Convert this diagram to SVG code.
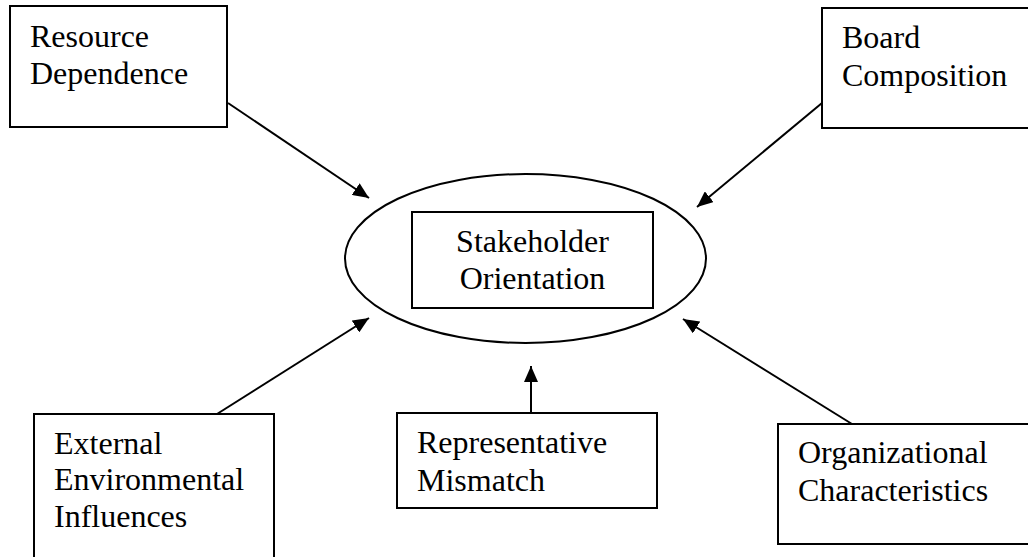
<svg xmlns="http://www.w3.org/2000/svg" width="1028" height="557" viewBox="0 0 1028 557">
<style>
.box{fill:#fff;stroke:#000;stroke-width:2}
.lbl{font-family:"Liberation Serif","Times New Roman",serif;font-size:32px;fill:#000}
.conn{stroke:#000;stroke-width:2;fill:none;marker-end:url(#arr)}
</style>
<defs>
<marker id="arr" markerUnits="userSpaceOnUse" markerWidth="18" markerHeight="14" refX="16" refY="7" orient="auto">
<path d="M0,0 L16,7 L0,14 Z" fill="#000"/>
</marker>
</defs>
<rect width="1028" height="557" fill="#fff"/>
<g id="connectors">
<line class="conn" x1="228" y1="103" x2="369" y2="198"/>
<line class="conn" x1="822" y1="103" x2="697" y2="207"/>
<line class="conn" x1="217" y1="414" x2="369" y2="318"/>
<line class="conn" x1="531" y1="413" x2="531" y2="366"/>
<line class="conn" x1="852" y1="424" x2="683" y2="319"/>
</g>
<g id="resource">
<rect class="box" x="10" y="6" width="217" height="121"/>
<text class="lbl" x="30" y="47">Resource</text>
<text class="lbl" x="30" y="84">Dependence</text>
</g>
<g id="board">
<rect class="box" x="822" y="8" width="230" height="120"/>
<text class="lbl" x="842" y="48">Board</text>
<text class="lbl" x="842" y="86">Composition</text>
</g>
<g id="stakeholder">
<ellipse cx="525.5" cy="258.5" rx="180.5" ry="84.5" fill="none" stroke="#000" stroke-width="2"/>
<rect class="box" x="412" y="212" width="241" height="96"/>
<text class="lbl" x="532.5" y="252" text-anchor="middle">Stakeholder</text>
<text class="lbl" x="532.5" y="289" text-anchor="middle">Orientation</text>
</g>
<g id="external">
<rect class="box" x="34" y="414" width="240" height="160"/>
<text class="lbl" x="54" y="454">External</text>
<text class="lbl" x="54" y="490">Environmental</text>
<text class="lbl" x="54" y="527">Influences</text>
</g>
<g id="representative">
<rect class="box" x="397" y="413" width="260" height="95"/>
<text class="lbl" x="417" y="453">Representative</text>
<text class="lbl" x="417" y="491">Mismatch</text>
</g>
<g id="organizational">
<rect class="box" x="778" y="424" width="270" height="120"/>
<text class="lbl" x="798" y="463">Organizational</text>
<text class="lbl" x="798" y="501">Characteristics</text>
</g>
</svg>
